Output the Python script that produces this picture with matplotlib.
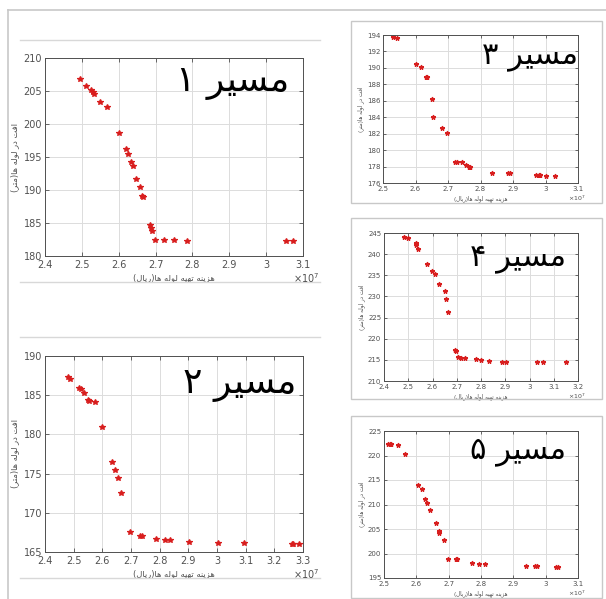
"""Pareto fronts for five routes (composite of MATLAB screenshots)"""
import numpy as np
import matplotlib
matplotlib.use("Agg")
import matplotlib.pyplot as plt
from matplotlib.lines import Line2D
from matplotlib.patches import Rectangle

W, H = 606, 599

# pipe cost (x 1e7 rial) vs head loss
x1 = [2.495, 2.511, 2.525, 2.530, 2.533, 2.548, 2.567, 2.600, 2.619, 2.624, 2.634, 2.638,
      2.648, 2.659, 2.664, 2.667, 2.686, 2.688, 2.689, 2.699, 2.724, 2.751, 2.785, 3.055, 3.072]
y1 = [206.8, 205.7, 205.2, 204.8, 204.5, 203.4, 202.6, 198.6, 196.2, 195.5, 194.2, 193.7,
      191.7, 190.4, 189.1, 189.0, 184.7, 184.3, 183.8, 182.5, 182.4, 182.4, 182.3, 182.3, 182.3]

x2 = [2.481, 2.487, 2.520, 2.524, 2.535, 2.549, 2.552, 2.573, 2.599, 2.635, 2.644, 2.653,
      2.666, 2.695, 2.731, 2.737, 2.786, 2.819, 2.837, 2.901, 3.002, 3.093, 3.263, 3.265, 3.286]
y2 = [187.3, 187.1, 185.9, 185.8, 185.3, 184.4, 184.3, 184.1, 180.9, 176.5, 175.4, 174.4,
      172.5, 167.5, 167.1, 167.0, 166.7, 166.5, 166.5, 166.3, 166.2, 166.2, 166.0, 166.0, 166.0]

x3 = [2.531, 2.543, 2.603, 2.617, 2.632, 2.634, 2.650, 2.655, 2.681, 2.698, 2.722, 2.727,
      2.743, 2.754, 2.764, 2.768, 2.835, 2.885, 2.892, 2.970, 2.979, 2.984, 3.001, 3.029]
y3 = [193.7, 193.6, 190.5, 190.1, 188.9, 188.9, 186.2, 184.0, 182.7, 182.1, 178.5, 178.5,
      178.5, 178.2, 178.0, 178.0, 177.2, 177.2, 177.2, 177.0, 177.0, 177.0, 176.9, 176.9]

x4 = [2.481, 2.499, 2.531, 2.531, 2.539, 2.579, 2.598, 2.609, 2.627, 2.650, 2.655, 2.665,
      2.691, 2.698, 2.706, 2.716, 2.735, 2.778, 2.800, 2.833, 2.885, 2.902, 3.031, 3.054, 3.152]
y4 = [244.0, 243.9, 242.7, 242.2, 241.2, 237.7, 236.1, 235.3, 232.9, 231.2, 229.4, 226.3,
      217.3, 217.0, 215.7, 215.5, 215.4, 215.1, 215.0, 214.7, 214.6, 214.6, 214.5, 214.4, 214.4]

x5 = [2.512, 2.518, 2.521, 2.543, 2.565, 2.605, 2.616, 2.628, 2.632, 2.643, 2.661, 2.669,
      2.670, 2.686, 2.698, 2.722, 2.727, 2.772, 2.793, 2.811, 2.939, 2.968, 2.972, 3.031, 3.038]
y5 = [222.4, 222.4, 222.4, 222.1, 220.4, 214.0, 213.2, 211.1, 210.4, 208.9, 206.3, 204.5,
      204.2, 202.8, 198.9, 198.9, 198.9, 198.0, 197.9, 197.9, 197.4, 197.4, 197.4, 197.3, 197.3]

titles = ["مسیر ۱", "مسیر ۲", "مسیر ۳", "مسیر ۴", "مسیر ۵"]
xlabel = "هزینه تهیه لوله ها(ریال)"
ylabel = "افت در لوله ها(متر)"

xlims = [(2.4, 3.1), (2.4, 3.3), (2.5, 3.1), (2.4, 3.2), (2.5, 3.1)]
ylims = [(180, 210), (165, 190), (176, 194), (210, 245), (195, 225)]
ysteps = [5, 5, 2, 5, 5]

# matplotlib has no arabic shaping, so pick presentation forms by hand
FORMS = {
    'ا': ('\uFE8D', '\uFE8E', None, None),
    'ت': ('\uFE95', '\uFE96', '\uFE97', '\uFE98'),
    'د': ('\uFEA9', '\uFEAA', None, None),
    'ر': ('\uFEAD', '\uFEAE', None, None),
    'ز': ('\uFEAF', '\uFEB0', None, None),
    'س': ('\uFEB1', '\uFEB2', '\uFEB3', '\uFEB4'),
    'ف': ('\uFED1', '\uFED2', '\uFED3', '\uFED4'),
    'ل': ('\uFEDD', '\uFEDE', '\uFEDF', '\uFEE0'),
    'م': ('\uFEE1', '\uFEE2', '\uFEE3', '\uFEE4'),
    'ن': ('\uFEE5', '\uFEE6', '\uFEE7', '\uFEE8'),
    'ه': ('\uFEE9', '\uFEEA', '\uFEEB', '\uFEEC'),
    'و': ('\uFEED', '\uFEEE', None, None),
    'ی': ('\uFBFC', '\uFBFD', '\uFBFE', '\uFBFF'),
}


def shape(text):
    out = []
    for i, ch in enumerate(text):
        if ch not in FORMS:
            out.append(ch)
            continue
        iso, fin, ini, med = FORMS[ch]
        prev = text[i - 1] if i > 0 else ''
        nxt = text[i + 1] if i + 1 < len(text) else ''
        jp = prev in FORMS and FORMS[prev][2] is not None
        jn = nxt in FORMS and ini is not None
        if jp and jn:
            out.append(med)
        elif jp:
            out.append(fin)
        elif jn:
            out.append(ini)
        else:
            out.append(iso)
    vis = ''.join(out)[::-1]
    return vis.translate(str.maketrans('()', ')('))


def rect(l, t, r, b):
    return [l / W, 1 - b / H, (r - l) / W, (b - t) / H]


fig = plt.figure(figsize=(W / 100, H / 100), dpi=100)
fig.patch.set_facecolor('white')

frame = '#c8c8c8'
# outer border of the screenshot collage
fig.add_artist(Line2D([8 / W, 1], [1 - 10 / H] * 2, color=frame, lw=1.2))
fig.add_artist(Line2D([8 / W] * 2, [1 - 10 / H, 0], color=frame, lw=1.2))
for yy in [40, 282, 337, 578]:
    fig.add_artist(Line2D([20 / W, 320 / W], [1 - yy / H] * 2, color='#d8d8d8', lw=1.0))
for t, b in [(21, 203), (218, 399), (416, 598)]:
    fig.add_artist(Rectangle((351 / W, 1 - b / H), 251 / W, (b - t) / H,
                             fill=False, edgecolor=frame, lw=1.0))

boxes = [(45, 58, 303, 256), (45, 356, 303, 552), (383, 35, 578, 183),
         (384, 233, 578, 381), (384, 431, 578, 578)]
title_pos = [(233, 83), (240, 385), (530, 57), (518, 258), (518, 452)]
xs = [x1, x2, x3, x4, x5]
ys = [y1, y2, y3, y4, y5]

for k in range(5):
    big = k < 2
    tfs = 7 if big else 5
    ax = fig.add_axes(rect(*boxes[k]))
    ax.plot(xs[k], ys[k], linestyle='none', marker='*', color='#d81e1e',
            markersize=4.2 if big else 3.4, markeredgewidth=0.9)
    ax.set_xlim(*xlims[k])
    ax.set_ylim(*ylims[k])
    ax.set_xticks(np.arange(xlims[k][0], xlims[k][1] + 0.001, 0.1))
    ax.set_xticklabels(['%g' % round(v, 1) for v in ax.get_xticks()])
    ax.set_yticks(np.arange(ylims[k][0], ylims[k][1] + 0.001, ysteps[k]))
    ax.grid(True, color='#dcdcdc', lw=0.7)
    ax.set_axisbelow(True)
    ax.tick_params(direction='in', length=3 if big else 2, width=0.6,
                   labelsize=tfs, colors='#505050', pad=2,
                   top=True, right=True)
    ax.tick_params(axis='x', pad=3 if big else 2.5)
    for s in ax.spines.values():
        s.set_color('#505050')
        s.set_linewidth(0.7)
    ax.set_xlabel(shape(xlabel), fontsize=tfs - 1, color='#505050',
                  labelpad=2, family='DejaVu Sans')
    ax.set_ylabel(shape(ylabel), fontsize=tfs - 1, color='#505050',
                  labelpad=3 if big else 2, family='DejaVu Sans')
    l, t, r, b = boxes[k]
    fig.text((r - 10) / W, 1 - (b + (22 if big else 15)) / H, r'$\times 10^7$',
             fontsize=tfs - (0 if big else 0.5), color='#505050', ha='left', va='center')
    tx, ty = title_pos[k]
    fig.text(tx / W, 1 - ty / H, shape(titles[k]), fontsize=26 if big else 22,
             color='black', ha='center', va='center', family='DejaVu Sans')

fig.savefig('out.png', dpi=100)
